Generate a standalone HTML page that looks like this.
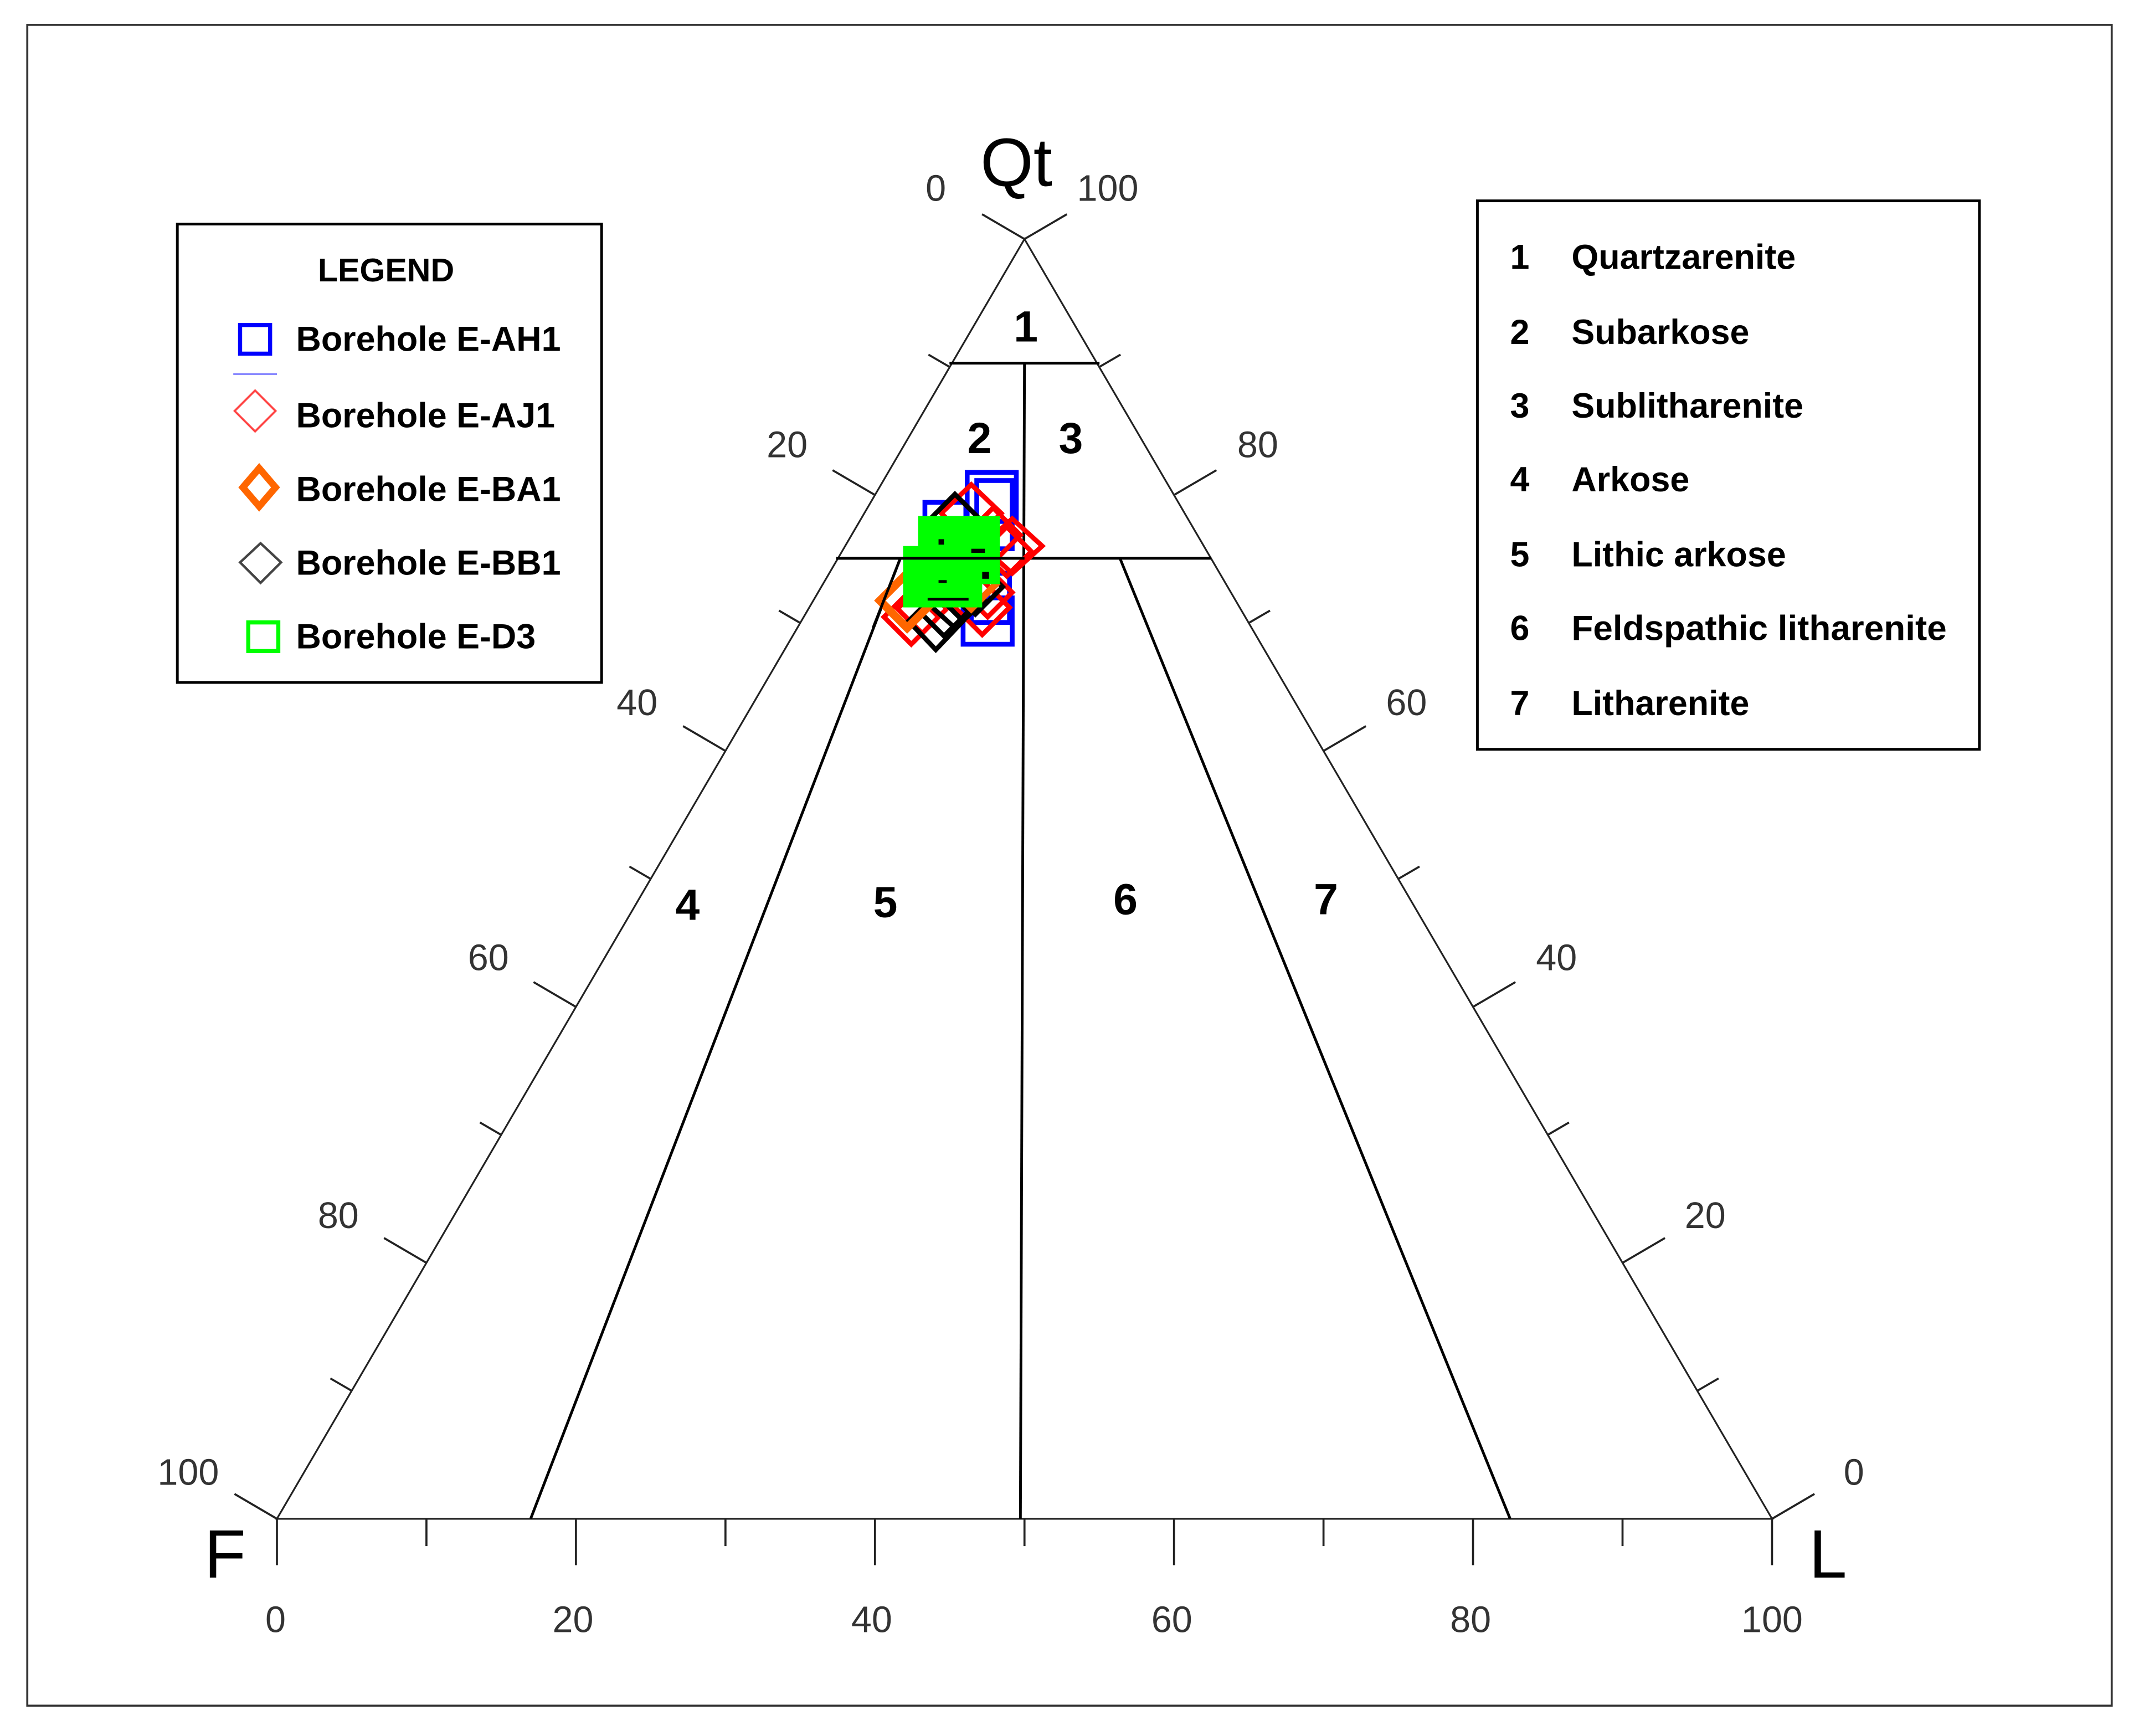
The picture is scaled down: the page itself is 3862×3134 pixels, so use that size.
<!DOCTYPE html>
<html><head><meta charset="utf-8"><style>
html,body{margin:0;padding:0;background:#fff;}
svg{display:block;}
.n{font-family:"Liberation Sans",sans-serif;font-size:27px;fill:#333;text-anchor:middle;}
.b{font-family:"Liberation Sans",sans-serif;font-weight:bold;fill:#000;}
</style></head><body>
<svg width="3862" height="3134" viewBox="0 0 1568 1272" xmlns="http://www.w3.org/2000/svg">
<rect x="0" y="0" width="1568" height="1272" fill="#fff"/>
<rect x="20" y="18" width="1528" height="1232" fill="none" stroke="#333" stroke-width="1.5"/>

<g stroke="#222" stroke-width="1.3" fill="none">
<polygon points="751,175 203,1113 1299,1113"/>
</g>
<g stroke="#000" stroke-width="2" fill="none">
<line x1="696" y1="266" x2="806" y2="266"/>
<line x1="613" y1="409" x2="888" y2="409"/>
<line x1="751" y1="266" x2="748" y2="1113"/>
<line x1="660" y1="409" x2="389" y2="1113"/>
<line x1="821" y1="409" x2="1107" y2="1113"/>
</g>
<g stroke="#222" stroke-width="1.5">
<line x1="751" y1="175" x2="719.9" y2="156.8"/>
<line x1="696.2" y1="268.8" x2="680.6" y2="259.7"/>
<line x1="641.4" y1="362.6" x2="610.3" y2="344.4"/>
<line x1="586.6" y1="456.4" x2="571" y2="447.3"/>
<line x1="531.8" y1="550.2" x2="500.7" y2="532"/>
<line x1="477" y1="644" x2="461.4" y2="634.9"/>
<line x1="422.2" y1="737.8" x2="391.1" y2="719.6"/>
<line x1="367.4" y1="831.6" x2="351.8" y2="822.5"/>
<line x1="312.6" y1="925.4" x2="281.5" y2="907.2"/>
<line x1="257.8" y1="1019.2" x2="242.2" y2="1010.1"/>
<line x1="203" y1="1113" x2="171.9" y2="1094.8"/>

<line x1="751" y1="175" x2="782.1" y2="156.8"/>
<line x1="805.8" y1="268.8" x2="821.4" y2="259.7"/>
<line x1="860.6" y1="362.6" x2="891.7" y2="344.4"/>
<line x1="915.4" y1="456.4" x2="931" y2="447.3"/>
<line x1="970.2" y1="550.2" x2="1001.3" y2="532"/>
<line x1="1025" y1="644" x2="1040.6" y2="634.9"/>
<line x1="1079.8" y1="737.8" x2="1110.9" y2="719.6"/>
<line x1="1134.6" y1="831.6" x2="1150.2" y2="822.5"/>
<line x1="1189.4" y1="925.4" x2="1220.5" y2="907.2"/>
<line x1="1244.2" y1="1019.2" x2="1259.8" y2="1010.1"/>
<line x1="1299" y1="1113" x2="1330.1" y2="1094.8"/>

<line x1="203" y1="1113" x2="203" y2="1147"/>
<line x1="312.6" y1="1113" x2="312.6" y2="1133"/>
<line x1="422.2" y1="1113" x2="422.2" y2="1147"/>
<line x1="531.8" y1="1113" x2="531.8" y2="1133"/>
<line x1="641.4" y1="1113" x2="641.4" y2="1147"/>
<line x1="751" y1="1113" x2="751" y2="1133"/>
<line x1="860.6" y1="1113" x2="860.6" y2="1147"/>
<line x1="970.2" y1="1113" x2="970.2" y2="1133"/>
<line x1="1079.8" y1="1113" x2="1079.8" y2="1147"/>
<line x1="1189.4" y1="1113" x2="1189.4" y2="1133"/>
<line x1="1299" y1="1113" x2="1299" y2="1147"/>
</g>
<g class="n">
<text x="686" y="147">0</text><text x="577" y="335">20</text><text x="467" y="524">40</text><text x="358" y="711">60</text><text x="248" y="900">80</text><text x="138" y="1088">100</text>
<text x="812" y="147">100</text><text x="922" y="335">80</text><text x="1031" y="524">60</text><text x="1141" y="711">40</text><text x="1250" y="900">20</text><text x="1359" y="1088">0</text>
<text x="202" y="1196">0</text><text x="420" y="1196">20</text><text x="639" y="1196">40</text><text x="859" y="1196">60</text><text x="1078" y="1196">80</text><text x="1299" y="1196">100</text>
</g>
<g font-family="Liberation Sans, sans-serif" font-size="50" fill="#000" text-anchor="middle">
<text x="745" y="136">Qt</text>
<text x="165" y="1156">F</text>
<text x="1340" y="1156">L</text>
</g>
<g class="b" font-size="32" text-anchor="middle">
<text x="752" y="250">1</text><text x="718" y="332">2</text><text x="785" y="332">3</text>
<text x="504" y="674">4</text><text x="649" y="672">5</text><text x="825" y="670">6</text><text x="972" y="670">7</text>
</g>

<g fill="none" stroke-width="3.5">
<rect x="709" y="346" width="36" height="36" stroke="#00f"/>
<rect x="716" y="352" width="26" height="50" stroke="#00f"/>
<rect x="678" y="368" width="30" height="30" stroke="#00f"/>
<rect x="706" y="438" width="36" height="34" stroke="#00f"/>
<rect x="712" y="420" width="28" height="36" stroke="#00f"/>
<polygon points="728,372 748,392 728,412 708,392" stroke="#f00"/>
<polygon points="742,380 764,400 742,420 720,400" stroke="#f00"/>
<polygon points="738,386 756,404 738,422 720,404" stroke="#f00"/>
<polygon points="712,355 734,376 712,397 690,376" stroke="#f00"/>
<polygon points="668,432 688,452 668,472 648,452" stroke="#f00"/>
<polygon points="676,428 694,446 676,464 658,446" stroke="#f00"/>
<polygon points="720,425 740,445 720,465 700,445" stroke="#f00"/>
<polygon points="724,416 742,434 724,452 706,434" stroke="#f00"/>
<polygon points="700,362 722,384 700,406 678,384" stroke="#000"/>
<polygon points="686,435 706,455 686,476 666,455" stroke="#000"/>
<polygon points="692,430 710,448 692,466 674,448" stroke="#000"/>
<polygon points="700,420 722,440 700,460 678,440" stroke="#000"/>
<polygon points="715,410 735,430 715,450 695,430" stroke="#000"/>
<polygon points="665,420 685,440 665,460 645,440" stroke="#f60" stroke-width="6"/>
<polygon points="712,410 730,428 712,446 694,428" stroke="#f60" stroke-width="5"/>
</g>
<g fill="#0f0">
<rect x="673" y="378" width="60" height="50"/>
<rect x="662" y="400" width="58" height="45"/>
</g>
<g fill="#000">
<rect x="688" y="395" width="4" height="4"/><rect x="712" y="402" width="10" height="3"/>
<rect x="720" y="419" width="5" height="5"/>
<rect x="688" y="425" width="6" height="2"/><rect x="680" y="438" width="30" height="2"/>
</g>
<line x1="660" y1="409" x2="640" y2="460" stroke="#000" stroke-width="2"/>
<line x1="613" y1="409" x2="751" y2="409" stroke="#000" stroke-width="2"/>

<rect x="130" y="164" width="311" height="336" fill="#fff" stroke="#000" stroke-width="2"/>
<g class="b" font-size="24"><text x="283" y="206" text-anchor="middle">LEGEND</text></g>
<g class="b" font-size="25.5">
<text x="217" y="257">Borehole E-AH1</text>
<text x="217" y="313">Borehole E-AJ1</text>
<text x="217" y="367">Borehole E-BA1</text>
<text x="217" y="421">Borehole E-BB1</text>
<text x="217" y="475">Borehole E-D3</text>
</g>
<rect x="176" y="238" width="22" height="21" fill="none" stroke="#00f" stroke-width="3"/>
<line x1="171" y1="274" x2="203" y2="274" stroke="#66f" stroke-width="1"/>
<polygon points="187,286 202,301 187,316 172,301" fill="none" stroke="#f44" stroke-width="1.5"/>
<polygon points="190,343 202,357 190,371 178,357" fill="none" stroke="#f60" stroke-width="5"/>
<polygon points="191,398 206,412 191,427 176,412" fill="none" stroke="#444" stroke-width="1.8"/>
<rect x="182" y="456" width="22" height="21" fill="none" stroke="#0f0" stroke-width="3"/>

<rect x="1083" y="147" width="368" height="402" fill="#fff" stroke="#000" stroke-width="2"/>
<g class="b" font-size="25.5">
<text x="1107" y="197">1</text><text x="1152" y="197">Quartzarenite</text>
<text x="1107" y="252">2</text><text x="1152" y="252">Subarkose</text>
<text x="1107" y="306">3</text><text x="1152" y="306">Sublitharenite</text>
<text x="1107" y="360">4</text><text x="1152" y="360">Arkose</text>
<text x="1107" y="415">5</text><text x="1152" y="415">Lithic arkose</text>
<text x="1107" y="469">6</text><text x="1152" y="469" textLength="275" lengthAdjust="spacingAndGlyphs">Feldspathic litharenite</text>
<text x="1107" y="524">7</text><text x="1152" y="524">Litharenite</text>
</g>
</svg>
</body></html>
